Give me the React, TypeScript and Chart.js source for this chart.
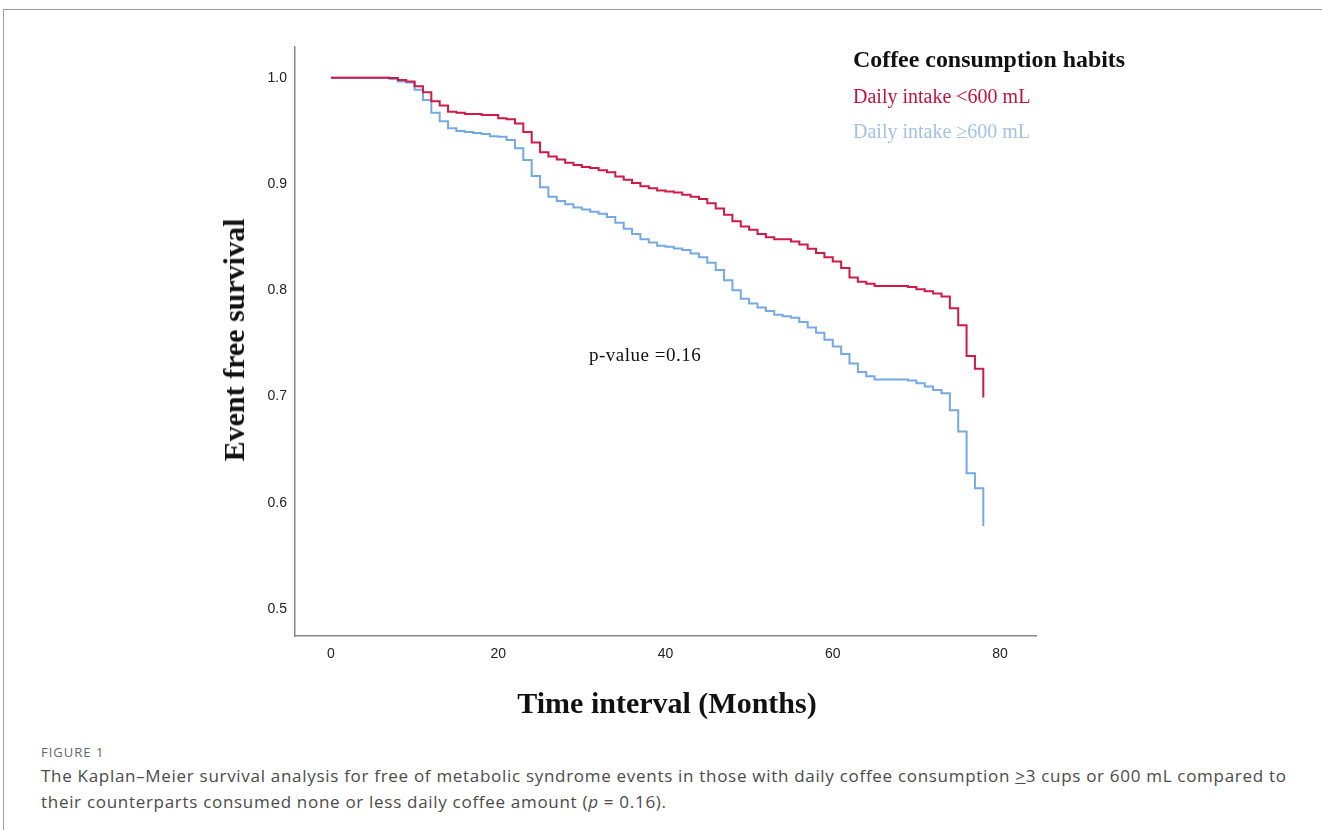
import { useEffect, useRef } from "react";
import { Chart, registerables } from "chart.js";

Chart.register(...registerables);

// ---- data ----
const months = [
  0, 1, 2, 3, 4, 5, 6, 7, 8, 9, 10, 11, 12, 13, 14, 15, 16, 17, 18, 19,
  20, 21, 22, 23, 24, 25, 26, 27, 28, 29, 30, 31, 32, 33, 34, 35, 36, 37, 38, 39,
  40, 41, 42, 43, 44, 45, 46, 47, 48, 49, 50, 51, 52, 53, 54, 55, 56, 57, 58, 59,
  60, 61, 62, 63, 64, 65, 66, 67, 68, 69, 70, 71, 72, 73, 74, 75, 76, 77, 78,
];

const intakeBelow600 = [
  1.0, 1.0, 1.0, 1.0, 1.0, 1.0, 1.0, 0.9997, 0.998, 0.9965, 0.992, 0.9865, 0.978, 0.974, 0.968, 0.967, 0.966, 0.966, 0.965, 0.965,
  0.962, 0.961, 0.957, 0.949, 0.939, 0.93, 0.926, 0.923, 0.92, 0.918, 0.916, 0.915, 0.913, 0.911, 0.907, 0.904, 0.901, 0.898, 0.896, 0.894,
  0.893, 0.892, 0.89, 0.888, 0.886, 0.882, 0.877, 0.871, 0.865, 0.86, 0.857, 0.853, 0.85, 0.848, 0.848, 0.846, 0.843, 0.839, 0.835, 0.831,
  0.827, 0.821, 0.812, 0.808, 0.806, 0.804, 0.804, 0.804, 0.804, 0.803, 0.801, 0.799, 0.797, 0.794, 0.783, 0.767, 0.738, 0.726, 0.699,
];

const intakeAbove600 = [
  1.0, 1.0, 1.0, 1.0, 1.0, 1.0, 1.0, 0.9988, 0.9965, 0.9956, 0.9887, 0.979, 0.967, 0.959, 0.9525, 0.95, 0.949, 0.948, 0.947, 0.945,
  0.9445, 0.9415, 0.9337, 0.9226, 0.9075, 0.897, 0.888, 0.884, 0.881, 0.878, 0.876, 0.874, 0.872, 0.869, 0.8635, 0.858, 0.853, 0.848, 0.845, 0.842,
  0.841, 0.8393, 0.838, 0.8346, 0.831, 0.826, 0.819, 0.8094, 0.8, 0.792, 0.7875, 0.7837, 0.7805, 0.777, 0.7755, 0.774, 0.77, 0.765, 0.76, 0.7535,
  0.747, 0.74, 0.731, 0.723, 0.719, 0.716, 0.716, 0.716, 0.716, 0.715, 0.7125, 0.7094, 0.706, 0.703, 0.687, 0.667, 0.6276, 0.6135, 0.578,
];

const xTickValues = [0, 20, 40, 60, 80];
const yTickValues = [0.5, 0.6, 0.7, 0.8, 0.9, 1.0];

const seriesLabels = ["Daily intake <600 mL", "Daily intake \u2265600 mL"];
const legendTitle = "Coffee consumption habits";
const pValueLabel = "p-value =0.16";
const xAxisTitle = "Time interval (Months)";
const yAxisTitle = "Event free survival";

const RED = "#cf1a47";
const BLUE = "#74a9e6";
const RED_TEXT = "#c8103c";
const BLUE_TEXT = "#a2c1ea";

const SERIF = "'Liberation Serif', 'Times New Roman', serif";
const SANS = "'Liberation Sans', Arial, sans-serif";
const CAPTION = "'Open Sans', 'Noto Sans', sans-serif";

export default function App() {
  const canvasRef = useRef<HTMLCanvasElement>(null);

  useEffect(() => {
    document.body.style.margin = "0";
    const canvas = canvasRef.current;
    if (!canvas) return;
    const chart = new Chart(canvas, {
      type: "line",
      data: {
        datasets: [
          {
            label: seriesLabels[0],
            data: months.map((m, i) => ({ x: m, y: intakeBelow600[i] })),
            borderColor: RED,
            backgroundColor: RED,
            borderWidth: 2,
            stepped: true,
            pointRadius: 0,
            fill: false,
          },
          {
            label: seriesLabels[1],
            data: months.map((m, i) => ({ x: m, y: intakeAbove600[i] })),
            borderColor: BLUE,
            backgroundColor: BLUE,
            borderWidth: 2,
            stepped: true,
            pointRadius: 0,
            fill: false,
          },
        ],
      },
      options: {
        animation: false,
        responsive: false,
        devicePixelRatio: 1,
        layout: { padding: { left: 0, top: 47, right: 286, bottom: 0 } },
        plugins: {
          legend: { display: false },
          tooltip: { enabled: false },
          title: { display: false },
        },
        scales: {
          x: {
            type: "linear",
            min: -4.3,
            max: 84.3,
            afterBuildTicks: (s: any) => {
              s.ticks = xTickValues.map((v) => ({ value: v }));
            },
            afterFit: (s: any) => {
              s.height = 94;
            },
            grid: { display: true, color: "rgba(0,0,0,0)", drawTicks: false },
            border: { display: true, color: "#8a8a8a", width: 1.5 },
            ticks: {
              padding: 10,
              color: "#222",
              font: { family: SANS, size: 14 },
              callback: (v: any) => String(v),
            },
          },
          y: {
            type: "linear",
            min: 0.4745,
            max: 1.029,
            afterBuildTicks: (s: any) => {
              s.ticks = yTickValues.map((v) => ({ value: v }));
            },
            afterFit: (s: any) => {
              s.width = 295;
            },
            grid: { display: true, color: "rgba(0,0,0,0)", drawTicks: false },
            border: { display: true, color: "#8a8a8a", width: 1.5 },
            ticks: {
              padding: 8,
              color: "#222",
              font: { family: SANS, size: 14 },
              callback: (v: any) => Number(v).toFixed(1),
            },
          },
        },
      },
    });
    return () => chart.destroy();
  }, []);

  return (
    <div style={{ position: "relative", width: 1322, height: 830, overflow: "hidden", background: "#fff" }}>
      <div
        style={{
          position: "absolute",
          left: 3,
          top: 9,
          width: 1330,
          height: 830,
          borderTop: "1.5px solid #9a9a9a",
          borderLeft: "1.5px solid #9a9a9a",
        }}
      />
      <canvas ref={canvasRef} width={1322} height={730} style={{ position: "absolute", left: 0, top: 0 }} />
      <div
        style={{
          position: "absolute",
          left: 234,
          top: 340,
          transform: "translate(-50%, -50%) rotate(-90deg)",
          whiteSpace: "nowrap",
          fontFamily: SERIF,
          fontWeight: "bold",
          fontSize: 30,
          color: "#111",
        }}
      >
        {yAxisTitle}
      </div>
      <div
        style={{
          position: "absolute",
          left: 667,
          top: 703,
          transform: "translate(-50%, -50%)",
          whiteSpace: "nowrap",
          fontFamily: SERIF,
          fontWeight: "bold",
          fontSize: 30,
          color: "#111",
        }}
      >
        {xAxisTitle}
      </div>
      <div style={{ position: "absolute", left: 853, top: 59, transform: "translateY(-50%)", whiteSpace: "nowrap", fontFamily: SERIF, fontWeight: "bold", fontSize: 23.9, color: "#111", lineHeight: "26px" }}>
        {legendTitle}
      </div>
      <div style={{ position: "absolute", left: 853, top: 96, transform: "translateY(-50%)", whiteSpace: "nowrap", fontFamily: SERIF, fontSize: 20, color: RED_TEXT, lineHeight: "24px" }}>
        {seriesLabels[0]}
      </div>
      <div style={{ position: "absolute", left: 853, top: 131, transform: "translateY(-50%)", whiteSpace: "nowrap", fontFamily: SERIF, fontSize: 20, color: BLUE_TEXT, lineHeight: "24px" }}>
        {seriesLabels[1]}
      </div>
      <div style={{ position: "absolute", left: 589, top: 355, transform: "translateY(-50%)", whiteSpace: "nowrap", fontFamily: SERIF, fontSize: 19, letterSpacing: 0.5, color: "#111", lineHeight: "22px" }}>
        {pValueLabel}
      </div>
      <div style={{ position: "absolute", left: 41, top: 752, transform: "translateY(-50%)", whiteSpace: "nowrap", fontFamily: CAPTION, fontSize: 13, letterSpacing: 1, color: "#666", lineHeight: "16px" }}>
        FIGURE 1
      </div>
      <div style={{ position: "absolute", left: 41, top: 763, whiteSpace: "nowrap", fontFamily: CAPTION, fontSize: 17, letterSpacing: 0.7, color: "#4a4a4a", lineHeight: "26px" }}>
        The Kaplan–Meier survival analysis for free of metabolic syndrome events in those with daily coffee consumption <u>&gt;</u>3 cups or 600 mL compared to
        <br />
        their counterparts consumed none or less daily coffee amount (<i>p</i> = 0.16).
      </div>
    </div>
  );
}
